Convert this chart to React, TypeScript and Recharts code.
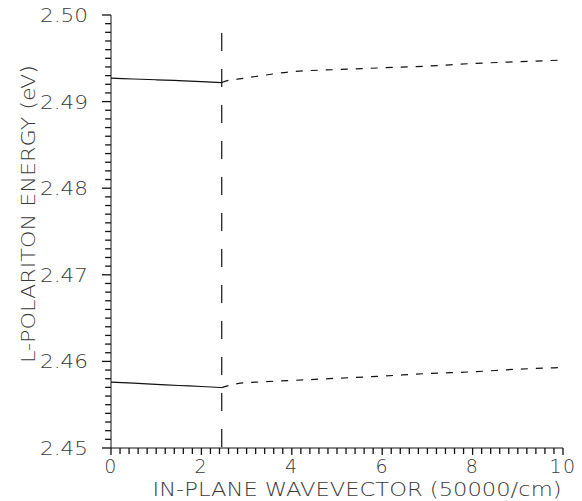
import React from 'react';
import { LineChart, Line, XAxis, YAxis, ReferenceLine } from 'recharts';

// lower-k branch (solid) and upper-k branch (dashed), energies in eV
const xSolid = [0, 0.5, 1, 1.5, 2, 2.45];
const upperSolid = [2.4927, 2.49261, 2.49252, 2.49242, 2.49231, 2.4922];
const lowerSolid = [2.4576, 2.45748, 2.45735, 2.45722, 2.4571, 2.45698];

const xDashed = [2.45, 2.6, 2.8, 3.2, 4, 5, 6, 7, 8, 9, 10];
const upperDashed = [2.4922, 2.49245, 2.4926, 2.4929, 2.49345, 2.4937, 2.4939, 2.4941, 2.4944, 2.4946, 2.4948];
const lowerDashed = [2.45698, 2.4572, 2.45744, 2.4576, 2.4578, 2.45805, 2.4583, 2.4586, 2.4588, 2.4591, 2.4593];

const crossover = [2.45, 2.45];
const crossoverY = [2.5, 2.45];

const xTickLabels = [0, 2, 4, 6, 8, 10];
const yTickLabels = ['2.45', '2.46', '2.47', '2.48', '2.49', '2.50'];

const xTicks = Array.from({ length: 51 }, (_, i) => Math.round(i * 2) / 10);
const yTicks = Array.from({ length: 51 }, (_, i) => Math.round(2450 + i) / 1000);

const toPoints = (xs: number[], ys: number[]) => xs.map((x, i) => ({ x, y: ys[i] }));

const INK = '#111';
const TEXT = '#3a3a3a';
const FONT = '"DejaVu Sans", sans-serif';

const isMajorX = (v: number) => Math.round(v * 10) % 20 === 0;
const isMajorY = (v: number) => Math.round(v * 1000) % 10 === 0;

const renderXTick = (props: any) => {
  const { x, y, payload } = props;
  const v = payload.value;
  return (
    <g>
      {isMajorX(v) && xTickLabels.includes(Math.round(v)) && (
        <text x={x} y={y + 17} textAnchor="middle" fontSize={19} fontWeight={200} fontFamily={FONT} fill={TEXT} letterSpacing={1.5}>
          {Math.round(v)}
        </text>
      )}
    </g>
  );
};

const renderYTick = (props: any) => {
  const { x, y, payload } = props;
  const k = Math.round(payload.value * 1000);
  const label = k % 10 === 0 ? yTickLabels[(k - 2450) / 10] : null;
  return (
    <g>
      {label && (
        <text x={x - 15} y={y + 7} textAnchor="end" fontSize={19} fontWeight={200} fontFamily={FONT} fill={TEXT} textLength={48} lengthAdjust="spacingAndGlyphs">
          {label}
        </text>
      )}
    </g>
  );
};

export default function App() {
  return (
    <div style={{ position: 'absolute', left: 0, top: 0, width: 582, height: 501, background: '#fff' }}>
      <LineChart width={582} height={501} margin={{ top: 15, right: 19, bottom: 13, left: 0 }}>
        <XAxis
          dataKey="x"
          type="number"
          domain={[0, 10]}
          ticks={xTicks}
          interval={0}
          tick={renderXTick}
          tickLine={false}
          tickSize={6}
          stroke={INK}
          height={40}
        />
        <YAxis
          dataKey="y"
          type="number"
          domain={[2.45, 2.5]}
          ticks={yTicks}
          interval={0}
          tick={renderYTick}
          tickLine={false}
          tickSize={6}
          stroke={INK}
          width={111}
        />
        {/* tick marks hanging outside the axes */}
        {xTicks.map((v) => (
          <ReferenceLine
            key={`xt-${v}`}
            segment={[{ x: v, y: 2.45 }, { x: v, y: 2.45 - (isMajorX(v) ? 0.0008 : 0.0007) }]}
            stroke={INK}
            strokeWidth={1.3}
            ifOverflow="visible"
          />
        ))}
        {yTicks.map((v) => (
          <ReferenceLine
            key={`yt-${v}`}
            segment={[{ x: 0, y: v }, { x: isMajorY(v) ? -0.2 : -0.13, y: v }]}
            stroke={INK}
            strokeWidth={1.3}
            ifOverflow="visible"
          />
        ))}
        <Line data={toPoints(xSolid, upperSolid)} dataKey="y" type="monotone" stroke={INK} strokeWidth={1.2} dot={false} isAnimationActive={false} />
        <Line data={toPoints(xSolid, lowerSolid)} dataKey="y" type="monotone" stroke={INK} strokeWidth={1.2} dot={false} isAnimationActive={false} />
        <Line data={toPoints(xDashed, upperDashed)} dataKey="y" type="monotone" stroke={INK} strokeWidth={1.2} strokeDasharray="7 8" dot={false} isAnimationActive={false} />
        <Line data={toPoints(xDashed, lowerDashed)} dataKey="y" type="monotone" stroke={INK} strokeWidth={1.2} strokeDasharray="7 8" dot={false} isAnimationActive={false} />
        <Line data={toPoints(crossover, crossoverY)} dataKey="y" type="linear" stroke={INK} strokeWidth={1.2} strokeDasharray="18 18" strokeDashoffset={18} dot={false} isAnimationActive={false} />
      </LineChart>
      <svg width={582} height={501} style={{ position: 'absolute', left: 0, top: 0, pointerEvents: 'none' }}>
        <text x={357} y={496} textAnchor="middle" fontSize={20} fontWeight={200} fontFamily={FONT} fill={TEXT} textLength={409} lengthAdjust="spacingAndGlyphs">
          IN-PLANE WAVEVECTOR (50000/cm)
        </text>
        <text
          x={35}
          y={214}
          transform="rotate(-90 35 214)"
          textAnchor="middle"
          fontSize={20}
          fontWeight={200}
          fontFamily={FONT}
          fill={TEXT}
          textLength={298}
          lengthAdjust="spacingAndGlyphs"
        >
          L-POLARITON ENERGY (eV)
        </text>
      </svg>
    </div>
  );
}
